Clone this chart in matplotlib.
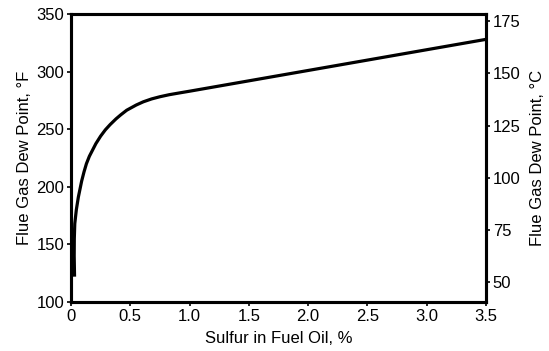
import matplotlib
matplotlib.use("Agg")
import matplotlib.pyplot as plt
import numpy as np

plt.rcParams['font.family'] = ['Liberation Sans', 'DejaVu Sans']

sulfur = [0.03, 0.027, 0.028, 0.032, 0.045, 0.062, 0.09, 0.11, 0.13, 0.155, 0.185, 0.21,
          0.25, 0.29, 0.33, 0.38, 0.42, 0.47, 0.55, 0.61, 0.68, 0.75, 0.83, 0.92,
          1.0, 1.5, 2.0, 2.5, 3.0, 3.5]
dew_f = [122, 140, 155, 168, 180, 191, 205, 213, 220, 226.5, 232.5, 237.5,
         244, 249.5, 254, 259, 262.5, 266.5, 271, 273.8, 276.3, 278.2, 280, 281.6,
         283, 292, 301, 310, 319, 328]
xticks = [0, 0.5, 1.0, 1.5, 2.0, 2.5, 3.0, 3.5]
xticklabels = ["0", "0.5", "1.0", "1.5", "2.0", "2.5", "3.0", "3.5"]
yticks_f = [100, 150, 200, 250, 300, 350]
yticks_c = [50, 75, 100, 125, 150, 175]

fig = plt.figure(figsize=(5.49, 3.51), dpi=100)
ax = fig.add_axes([0.1293, 0.1396, 0.885 - 0.1293, 0.960 - 0.1396])
ax.plot(sulfur, dew_f, color='black', lw=2.3, solid_capstyle='butt', solid_joinstyle='round')
ax.set_xlim(0, 3.5)
ax.set_ylim(100, 350)
ax.set_xticks(xticks)
ax.set_xticklabels(xticklabels)
ax.set_yticks(yticks_f)
for s in ax.spines.values():
    s.set_linewidth(2.2)
ax.tick_params(axis='both', direction='out', length=3, width=1.2, labelsize=12, pad=2)
ax.set_xlabel("Sulfur in Fuel Oil, %", fontsize=12, labelpad=5)
ax.set_ylabel("Flue Gas Dew Point, °F", fontsize=12, labelpad=3)

ax2 = ax.twinx()
ax2.set_ylim(40.3, 178.5)
ax2.set_yticks(yticks_c)
ax2.tick_params(axis='y', direction='out', length=3, width=1.2, labelsize=12, pad=2)
for s in ax2.spines.values():
    s.set_linewidth(2.2)
ax2.set_ylabel("Flue Gas Dew Point, °C", fontsize=12, labelpad=7)

fig.savefig("out.png", dpi=100)
